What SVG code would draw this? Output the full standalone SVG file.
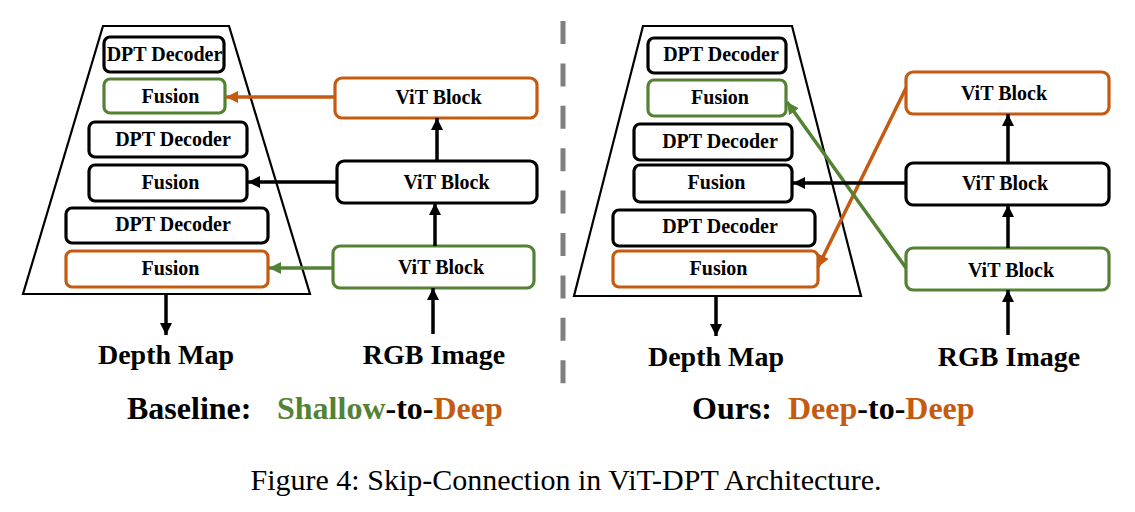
<svg xmlns="http://www.w3.org/2000/svg" width="1135" height="512" viewBox="0 0 1135 512">
<style>
.box{fill:#fff;stroke-width:3.2}
.k{stroke:#000}
.o{stroke:#C55A11}
.g{stroke:#548235}
.t{font-family:"Liberation Serif","Times New Roman",serif;font-weight:bold;font-size:20px;text-anchor:middle;fill:#000}
.lbl{font-family:"Liberation Serif","Times New Roman",serif;font-weight:bold;font-size:28px;text-anchor:middle;fill:#000}
.ttl{font-family:"Liberation Serif","Times New Roman",serif;font-weight:bold;font-size:32px;fill:#000}
.cap{font-family:"Liberation Serif","Times New Roman",serif;font-size:30px;text-anchor:middle;fill:#000}
.trap{fill:#fff;stroke:#000;stroke-width:2.2}
.ln{fill:none;stroke-width:3.5}
</style>
<defs>
<marker id="ak" markerUnits="userSpaceOnUse" markerWidth="14" markerHeight="14" refX="12" refY="6" orient="auto"><path d="M0,0 L12,6 L0,12 Z" fill="#000"/></marker>
<marker id="ao" markerUnits="userSpaceOnUse" markerWidth="14" markerHeight="14" refX="12" refY="6" orient="auto"><path d="M0,0 L12,6 L0,12 Z" fill="#C55A11"/></marker>
<marker id="ag" markerUnits="userSpaceOnUse" markerWidth="14" markerHeight="14" refX="12" refY="6" orient="auto"><path d="M0,0 L12,6 L0,12 Z" fill="#548235"/></marker>
</defs>

<!-- LEFT PANEL -->
<g id="left-decoder">
<polygon class="trap" points="103,26 229,26 310,294 23,294"/>
</g>
<g id="L-dpt1"><rect class="box k" x="104" y="37" width="120" height="35" rx="6"/><text class="t" x="164.5" y="61">DPT Decoder</text></g>
<g id="L-fus1"><rect class="box g" x="104" y="79" width="121" height="34" rx="6"/><text class="t" x="170.5" y="103">Fusion</text></g>
<g id="L-dpt2"><rect class="box k" x="89" y="122" width="158" height="35" rx="6"/><text class="t" x="173" y="146">DPT Decoder</text></g>
<g id="L-fus2"><rect class="box k" x="89" y="165" width="158" height="36" rx="6"/><text class="t" x="170.5" y="189">Fusion</text></g>
<g id="L-dpt3"><rect class="box k" x="66" y="208" width="202" height="35" rx="6"/><text class="t" x="173" y="231">DPT Decoder</text></g>
<g id="L-fus3"><rect class="box o" x="66" y="251" width="202" height="36" rx="6"/><text class="t" x="170.5" y="275">Fusion</text></g>
<g id="L-vit3"><rect class="box o" x="335" y="78" width="202" height="40" rx="7"/><text class="t" x="438.5" y="104">ViT Block</text></g>
<g id="L-vit2"><rect class="box k" x="337" y="161" width="200" height="42" rx="7"/><text class="t" x="446.5" y="189">ViT Block</text></g>
<g id="L-vit1"><rect class="box g" x="333" y="246" width="201" height="42" rx="7"/><text class="t" x="441" y="274">ViT Block</text></g>
<g id="L-depth"><text class="lbl" x="166" y="364">Depth Map</text></g>
<g id="L-rgb"><text class="lbl" x="434" y="364">RGB Image</text></g>
<g id="L-title"><text class="ttl" y="419"><tspan x="127">Baseline:</tspan><tspan x="277" fill="#548235">Shallow</tspan><tspan>-to-</tspan><tspan fill="#C55A11">Deep</tspan></text></g>

<!-- RIGHT PANEL -->
<g id="right-decoder">
<polygon class="trap" points="643,26 792,26 861,296 574,296"/>
</g>
<g id="R-dpt1"><rect class="box k" x="648" y="38" width="138" height="35" rx="6"/><text class="t" x="721" y="61">DPT Decoder</text></g>
<g id="R-fus1"><rect class="box g" x="648" y="80" width="138" height="36" rx="6"/><text class="t" x="720" y="104">Fusion</text></g>
<g id="R-dpt2"><rect class="box k" x="634" y="124" width="158" height="36" rx="6"/><text class="t" x="720" y="148">DPT Decoder</text></g>
<g id="R-fus2"><rect class="box k" x="634" y="165" width="158" height="37" rx="6"/><text class="t" x="716.5" y="189">Fusion</text></g>
<g id="R-dpt3"><rect class="box k" x="613" y="210" width="202" height="36" rx="6"/><text class="t" x="720" y="233">DPT Decoder</text></g>
<g id="R-fus3"><rect class="box o" x="613" y="251" width="205" height="36" rx="6"/><text class="t" x="718.5" y="275">Fusion</text></g>
<g id="R-vit3"><rect class="box o" x="906" y="72" width="203" height="42" rx="7"/><text class="t" x="1004" y="100">ViT Block</text></g>
<g id="R-vit2"><rect class="box k" x="906" y="163" width="203" height="42" rx="7"/><text class="t" x="1005" y="190">ViT Block</text></g>
<g id="R-vit1"><rect class="box g" x="906" y="248" width="203" height="42" rx="7"/><text class="t" x="1011" y="277">ViT Block</text></g>
<g id="R-depth"><text class="lbl" x="716" y="366">Depth Map</text></g>
<g id="R-rgb"><text class="lbl" x="1009" y="366">RGB Image</text></g>
<g id="R-title"><text class="ttl" y="419"><tspan x="692">Ours:</tspan><tspan x="788" fill="#C55A11">Deep</tspan><tspan>-to-</tspan><tspan fill="#C55A11">Deep</tspan></text></g>

<!-- DIVIDER -->
<line x1="563" y1="21" x2="563" y2="384" stroke="#7F7F7F" stroke-width="5" stroke-dasharray="23 19.4"/>

<!-- CONNECTORS -->
<g id="connectors">
<line class="ln" x1="335" y1="97" x2="226" y2="97" stroke="#C55A11" marker-end="url(#ao)"/>
<line class="ln" x1="337" y1="182" x2="248" y2="182" stroke="#000" marker-end="url(#ak)"/>
<line class="ln" x1="333" y1="268" x2="269" y2="268" stroke="#548235" marker-end="url(#ag)"/>
<line class="ln" x1="437" y1="161" x2="437" y2="118" stroke="#000" stroke-width="3" marker-end="url(#ak)"/>
<line class="ln" x1="435" y1="246" x2="435" y2="203" stroke="#000" stroke-width="3" marker-end="url(#ak)"/>
<line class="ln" x1="433" y1="334" x2="433" y2="288" stroke="#000" stroke-width="3" marker-end="url(#ak)"/>
<line class="ln" x1="166" y1="294" x2="166" y2="335" stroke="#000" stroke-width="2.2" marker-end="url(#ak)"/>

<line class="ln" x1="906" y1="88" x2="818" y2="267" stroke="#C55A11" marker-end="url(#ao)"/>
<line class="ln" x1="906" y1="268" x2="787" y2="102" stroke="#548235" marker-end="url(#ag)"/>
<line class="ln" x1="906" y1="183" x2="793" y2="183" stroke="#000" marker-end="url(#ak)"/>
<line class="ln" x1="1008" y1="163" x2="1008" y2="114" stroke="#000" stroke-width="3" marker-end="url(#ak)"/>
<line class="ln" x1="1008" y1="248" x2="1008" y2="205" stroke="#000" stroke-width="3" marker-end="url(#ak)"/>
<line class="ln" x1="1008" y1="335" x2="1008" y2="290" stroke="#000" stroke-width="3" marker-end="url(#ak)"/>
<line class="ln" x1="716" y1="296" x2="716" y2="336" stroke="#000" stroke-width="2.2" marker-end="url(#ak)"/>
</g>

<text class="cap" x="566" y="490">Figure 4: Skip-Connection in ViT-DPT Architecture.</text>
</svg>
